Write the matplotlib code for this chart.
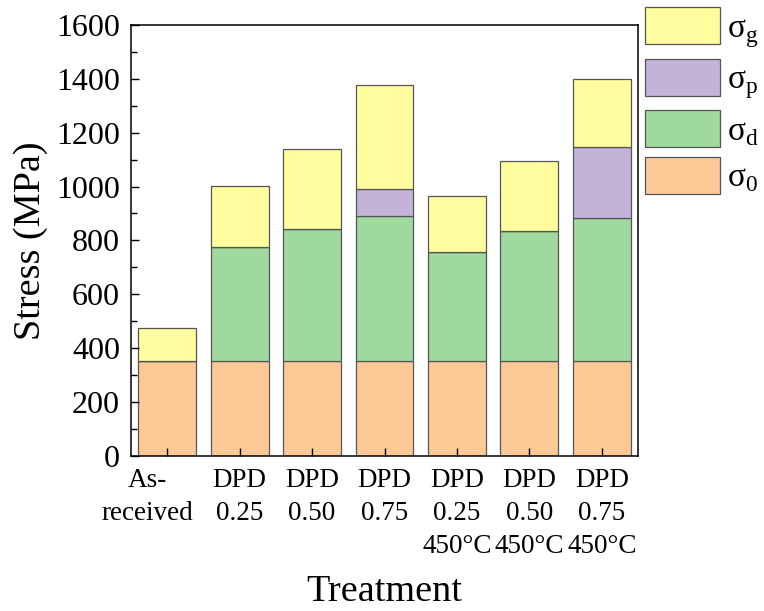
import numpy as np
import matplotlib
matplotlib.use("Agg")
from matplotlib import pyplot as plt
from matplotlib.transforms import ScaledTranslation

plt.rcParams['font.family'] = ['Liberation Serif', 'DejaVu Serif']
plt.rcParams['mathtext.fontset'] = 'custom'
plt.rcParams['mathtext.rm'] = 'Liberation Serif'

# data (MPa)
treatments = ["As-\nreceived", "DPD\n0.25", "DPD\n0.50", "DPD\n0.75",
              "DPD\n0.25\n450°C", "DPD\n0.50\n450°C", "DPD\n0.75\n450°C"]
sigma_0 = [350, 350, 350, 350, 350, 350, 350]
sigma_d = [0, 425, 492, 541, 405, 486, 532]
sigma_p = [0, 0, 0, 101, 0, 0, 264]
sigma_g = [123, 228, 296, 386, 210, 260, 252]

colors = {"0": "#FDC997", "d": "#A0D99E", "p": "#C3B3D8", "g": "#FFFD9E"}
edge = "#555555"

fig = plt.figure(figsize=(7.64, 6.11), dpi=100)
ax = fig.add_axes([131/764, 1-455.7/611, (638-131)/764, (455.7-25)/611])

x = np.arange(len(treatments))
w = 0.8
b0 = np.zeros(len(x))
h0 = ax.bar(x, sigma_0, w, bottom=b0, color=colors["0"], edgecolor=edge, linewidth=0.9)
b1 = b0 + np.array(sigma_0)
h1 = ax.bar(x, sigma_d, w, bottom=b1, color=colors["d"], edgecolor=edge, linewidth=0.9)
b2 = b1 + np.array(sigma_d)
h2 = ax.bar(x, sigma_p, w, bottom=b2, color=colors["p"], edgecolor=edge, linewidth=0.9)
b3 = b2 + np.array(sigma_p)
h3 = ax.bar(x, sigma_g, w, bottom=b3, color=colors["g"], edgecolor=edge, linewidth=0.9)

ax.set_xlim(-0.5, 6.5)
ax.set_ylim(0, 1600)
ax.set_yticks(np.arange(0, 1601, 200))
ax.set_yticks(np.arange(100, 1600, 200), minor=True)
ax.set_xticks(x)
ax.set_xticklabels(treatments, fontsize=19.5, linespacing=1.42)
ax.tick_params(axis='y', labelsize=23)
ax.tick_params(axis='both', which='major', direction='in', length=6, width=1)
ax.tick_params(axis='y', which='major', pad=8)
ax.tick_params(axis='y', which='minor', direction='in', length=4, width=1)
ax.tick_params(axis='x', which='major', pad=9)
for s in ax.spines.values():
    s.set_linewidth(1.1)

# the first label sits a little left of its tick in the original
lbl = ax.get_xticklabels()[0]
lbl.set_transform(lbl.get_transform() + ScaledTranslation(-0.2, 0, fig.dpi_scale_trans))

ax.set_ylabel("Stress (MPa)", fontsize=27.5, labelpad=6)
ax.set_xlabel("Treatment", fontsize=27.5, labelpad=11)

handles = [h3, h2, h1, h0]
labels = ["σ$_\\mathregular{g}$", "σ$_\\mathregular{p}$", "σ$_\\mathregular{d}$", "σ$_\\mathregular{0}$"]
fig.legend(handles, labels, loc='upper left', bbox_to_anchor=(645/764, 1-7/611),
           frameon=False, fontsize=24, handlelength=2.25, handleheight=1.35,
           labelspacing=0.27, handletextpad=0.2, borderpad=0, borderaxespad=0)

fig.savefig("out.png", dpi=100)
